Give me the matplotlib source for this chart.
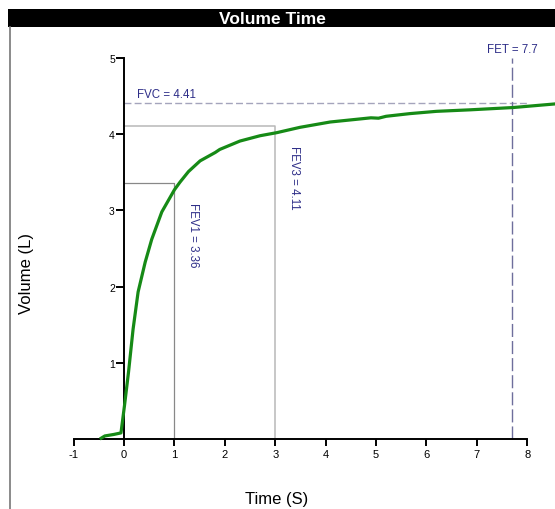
import matplotlib.pyplot as plt
from matplotlib.patches import Rectangle
from matplotlib.lines import Line2D

plt.rcParams['font.family'] = ['Liberation Sans', 'DejaVu Sans']
plt.rcParams['axes.unicode_minus'] = False

# volume-time curve
timeSec = [-0.48, -0.38, -0.2, -0.06, 0.01, 0.09, 0.18, 0.28, 0.42, 0.55, 0.75, 1.0, 1.11,
           1.28, 1.51, 1.81, 1.9, 2.3, 2.7, 3.03, 3.49, 4.09, 4.68, 4.9, 5.05, 5.2, 5.67,
           6.2, 6.87, 7.72, 8.6]
volumeL = [0.0, 0.04, 0.06, 0.08, 0.44, 0.88, 1.44, 1.93, 2.32, 2.62, 2.98, 3.27, 3.37,
           3.51, 3.65, 3.76, 3.80, 3.91, 3.98, 4.02, 4.09, 4.16, 4.20, 4.215, 4.21, 4.235, 4.27,
           4.30, 4.32, 4.35, 4.40]

fev1 = 3.36
fev3 = 4.11
fvc = 4.41
fet = 7.7

xTicks = [-1, 0, 1, 2, 3, 4, 5, 6, 7, 8]
yTicks = [1, 2, 3, 4, 5]

W, H = 555, 510
fig = plt.figure(figsize=(W / 100, H / 100), dpi=100)

# axes cover the panel under the title bar
ax = fig.add_axes([10 / W, 0, 545 / W, 482 / H])
ax.set_xlim((10 - 124) / 50.4, (555 - 124) / 50.4)
ax.set_ylim((440 - 510) / 76.2, (440 - 28) / 76.2)

# spines crossing at origin
for side in ['top', 'right']:
    ax.spines[side].set_visible(False)
ax.spines['left'].set_position(('data', 0))
ax.spines['bottom'].set_position(('data', 0))
ax.spines['left'].set_bounds(0, 5)
ax.spines['bottom'].set_bounds(-1, 8)
ax.spines['left'].set_linewidth(1.4)
ax.spines['bottom'].set_linewidth(1.4)

ax.set_xticks(xTicks)
ax.set_xticklabels([str(t) for t in xTicks])
ax.set_yticks(yTicks)
ax.tick_params(axis='x', direction='out', length=5, width=1.4, pad=2.5, labelsize=8)
ax.tick_params(axis='y', direction='out', length=5.8, width=1.4, pad=0.8, labelsize=7.5)

# FEV boxes
ax.plot([0, 1, 1], [fev1, fev1, 0], color='#888888', lw=0.9, zorder=2)
ax.plot([0, 3, 3], [fev3, fev3, 0], color='#b8b8b8', lw=1.1, zorder=2)

# FVC and FET guides
fvcLine, = ax.plot([0, 8], [fvc, fvc], color='#a4a4bc', lw=1.0, zorder=2)
fvcLine.set_dashes([5, 2.3])
fetLine, = ax.plot([fet, fet], [0, 5], color='#6e6e9c', lw=1.0, zorder=2)
fetLine.set_dashes([9.4, 2.9])

# curve
ax.plot(timeSec, volumeL, color='#168a16', lw=2.3, zorder=3, solid_capstyle='butt',
        solid_joinstyle='round')

labelColor = '#2e2e88'
ax.text(0.26, fvc + 0.04, 'FVC = 4.41', color=labelColor, fontsize=8.3, va='bottom', ha='left')
ax.text(fet, 5.04, 'FET = 7.7', color=labelColor, fontsize=8.3, va='bottom', ha='center')
ax.text(1.36, 3.11, 'FEV1 = 3.36', color=labelColor, fontsize=8.3, rotation=-90,
        ha='center', va='top')
ax.text(3.38, 3.86, 'FEV3 = 4.11', color=labelColor, fontsize=8.3, rotation=-90,
        ha='center', va='top')

# axis titles
fig.text(26 / W, 1 - 273 / H, 'Volume (L)', rotation=90, fontsize=12, ha='center', va='center')
fig.text(277 / W, 1 - 500 / H, 'Time (S)', fontsize=12, ha='center', va='center')

# title bar and panel border
fig.patches.append(Rectangle((8 / W, 1 - 28 / H), 1 - 8 / W, 18 / H, transform=fig.transFigure,
                             facecolor='black', edgecolor='none'))
fig.text(272 / W, 1 - 19.5 / H, 'Volume Time', color='white', fontsize=12.5, fontweight='bold',
         ha='center', va='center')
fig.lines.append(Line2D([9.5 / W, 9.5 / W], [0, 1 - 28 / H], transform=fig.transFigure,
                        color='#777777', lw=1.2))

fig.savefig('out.png', dpi=100)
